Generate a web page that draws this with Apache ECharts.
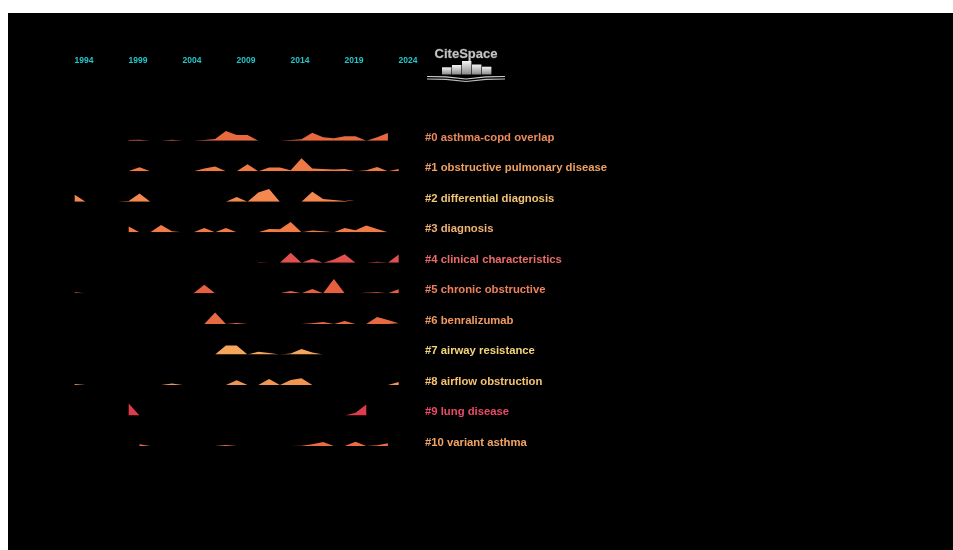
<!DOCTYPE html>
<html>
<head>
<meta charset="utf-8">
<title>CiteSpace timeline</title>
<script src="https://cdn.jsdelivr.net/npm/echarts@6/dist/echarts.min.js"></script>
<style>
  html, body { margin: 0; padding: 0; background: #fff; }
  #chart { width: 953px; height: 550px; }
</style>
</head>
<body>
<div id="chart"></div>
<script>
// time range and the year ticks on top
var firstYear = 1993
var lastYear = 2024
var tickYears = [1994, 1999, 2004, 2009, 2014, 2019, 2024]

// clusters: label, first year of data, yearly values
var clusterLabels = [
  '#0 asthma-copd overlap',
  '#1 obstructive pulmonary disease',
  '#2 differential diagnosis',
  '#3 diagnosis',
  '#4 clinical characteristics',
  '#5 chronic obstructive',
  '#6 benralizumab',
  '#7 airway resistance',
  '#8 airflow obstruction',
  '#9 lung disease',
  '#10 variant asthma'
]
var clusterStart = [1998, 1998, 1993, 1998, 2010, 1993, 2005, 2006, 1993, 1998, 1999]

var cluster0 = [2, 3, 0, 0, 3, 0, 0, 2, 5, 29, 17, 17, 0, 0, 0, 2, 4, 24, 10, 7, 13, 13, 0, 10, 23]
var cluster1 = [1, 12, 0, 0, 0, 0, 0, 8, 14, 0, 0, 21, 0, 11, 11, 3, 39, 8, 7, 5, 7, 0, 3, 13, 0, 7]
var cluster2 = [21, 0, 0, 0, 0, 2, 25, 0, 0, 0, 0, 0, 0, 0, 0, 14, 0, 28, 38, 0, 0, 0, 30, 8, 5, 2, 6]
var cluster3 = [17, 0, 0, 22, 3, 0, 0, 13, 0, 13, 0, 0, 0, 10, 9, 31, 0, 5, 3, 0, 13, 6, 20, 10, 0]
var cluster4 = [2, 0, 0, 30, 0, 12, 0, 10, 26, 0, 0, 3, 0, 25]
var cluster5 = [3, 0, 0, 0, 0, 0, 0, 0, 0, 0, 0, 0, 26, 0, 0, 0, 0, 0, 0, 0, 7, 0, 13, 0, 43, 0, 0, 2, 3, 0, 12]
var cluster6 = [0, 34, 0, 3, 0, 0, 0, 0, 0, 0, 2, 6, 0, 9, 0, 0, 21, 12, 2]
var cluster7 = [0, 27, 27, 0, 8, 4, 0, 3, 16, 6, 0, 4]
var cluster8 = [3, 0, 0, 0, 0, 0, 0, 0, 0, 4, 0, 0, 0, 0, 0, 14, 0, 0, 18, 0, 15, 20, 0, 0, 0, 0, 0, 0, 0, 0, 9]
var cluster9 = [36, 0, 0, 0, 0, 0, 0, 0, 0, 0, 0, 0, 0, 0, 0, 0, 0, 0, 0, 0, 0, 8, 33]
var cluster10 = [5, 0, 0, 0, 0, 0, 0, 0, 3, 0, 0, 0, 0, 0, 0, 1, 5, 12, 0, 0, 13, 0, 2, 8]

var clusterValues = [cluster0, cluster1, cluster2, cluster3, cluster4, cluster5,
  cluster6, cluster7, cluster8, cluster9, cluster10]

var areaColors = ['#e8693e', '#ee7a45', '#f4894f', '#f07b46', '#e0504d', '#e6603f',
  '#e86a42', '#f6a55c', '#f19452', '#dc3c4c', '#e96d40']
var labelColors = ['#ec8a5c', '#f0a060', '#f2c574', '#f2b272', '#ea6a66', '#ee805e',
  '#f09a60', '#f5d57a', '#f5c270', '#ea4a66', '#f2a565']

var chart = echarts.init(document.getElementById('chart'))

var rowTop = 140.7
var rowGap = 30.53
var rowHeight = 30
var plotLeft = 74.7
var plotWidth = (lastYear - firstYear) * 10.8

var grids = []
var xAxes = []
var yAxes = []
var series = []
var graphics = []

// black panel
graphics.push({
  type: 'rect',
  z: -10,
  shape: { x: 8, y: 13, width: 945, height: 537 },
  style: { fill: '#000' }
})

// year axis on top
grids.push({ left: 73.2, width: plotWidth, top: 67, height: 1 })
xAxes.push({
  gridIndex: 0,
  type: 'value',
  position: 'top',
  min: firstYear,
  max: lastYear,
  axisLine: { show: false },
  axisTick: { show: false },
  splitLine: { show: false },
  axisLabel: {
    customValues: tickYears,
    formatter: function (v) { return String(v) },
    margin: 1.5,
    color: '#22c6c8',
    fontSize: 8.5,
    fontWeight: 'bold',
    fontFamily: 'Liberation Sans'
  }
})
yAxes.push({ gridIndex: 0, type: 'value', show: false })

clusterValues.forEach(function (vals, i) {
  var base = rowTop + rowGap * i
  var gi = i + 1
  grids.push({ left: plotLeft, width: plotWidth, top: base - rowHeight, height: rowHeight })
  xAxes.push({ gridIndex: gi, type: 'value', min: firstYear, max: lastYear, show: false })
  yAxes.push({ gridIndex: gi, type: 'value', min: 0, max: 90, show: false })
  series.push({
    name: clusterLabels[i],
    type: 'line',
    xAxisIndex: gi,
    yAxisIndex: gi,
    symbol: 'none',
    silent: true,
    lineStyle: { width: 0, opacity: 0 },
    areaStyle: { color: areaColors[i], opacity: 1 },
    data: vals.map(function (v, k) { return [clusterStart[i] + k, v] })
  })
  graphics.push({
    type: 'text',
    x: 425,
    y: base - 3.2,
    style: {
      text: clusterLabels[i],
      fill: labelColors[i],
      font: 'bold 11.3px "Liberation Sans"',
      textAlign: 'left',
      textVerticalAlign: 'middle'
    }
  })
})

// CiteSpace logo
graphics.push({
  type: 'text',
  x: 466,
  y: 54.5,
  style: {
    text: 'CiteSpace',
    fill: '#c4c4c4',
    stroke: '#3a3a3a',
    lineWidth: 0.8,
    font: 'bold 13px "Liberation Sans"',
    textAlign: 'center',
    textVerticalAlign: 'middle'
  }
})
var blockTops = [67.3, 65, 61, 64.5, 66.7]
blockTops.forEach(function (t, k) {
  graphics.push({
    type: 'rect',
    shape: { x: 442 + k * 10, y: t, width: 9.4, height: 74.5 - t },
    style: {
      fill: new echarts.graphic.LinearGradient(0, 0, 0, 1, [
        { offset: 0, color: '#f4f4f4' },
        { offset: 1, color: '#8a8a8a' }
      ])
    }
  })
})
graphics.push({
  type: 'polyline',
  shape: { points: [[427, 76.5], [446, 76.8], [466, 79], [486, 76.8], [505, 76.5]] },
  style: { stroke: '#cfcfcf', lineWidth: 1.2, fill: null }
})
graphics.push({
  type: 'polyline',
  shape: { points: [[427, 79], [446, 79.3], [466, 81.5], [486, 79.3], [505, 79]] },
  style: { stroke: '#bdbdbd', lineWidth: 1.2, fill: null }
})

chart.setOption({
  backgroundColor: '#fff',
  animation: false,
  grid: grids,
  xAxis: xAxes,
  yAxis: yAxes,
  graphic: graphics,
  series: series
})
</script>
</body>
</html>
